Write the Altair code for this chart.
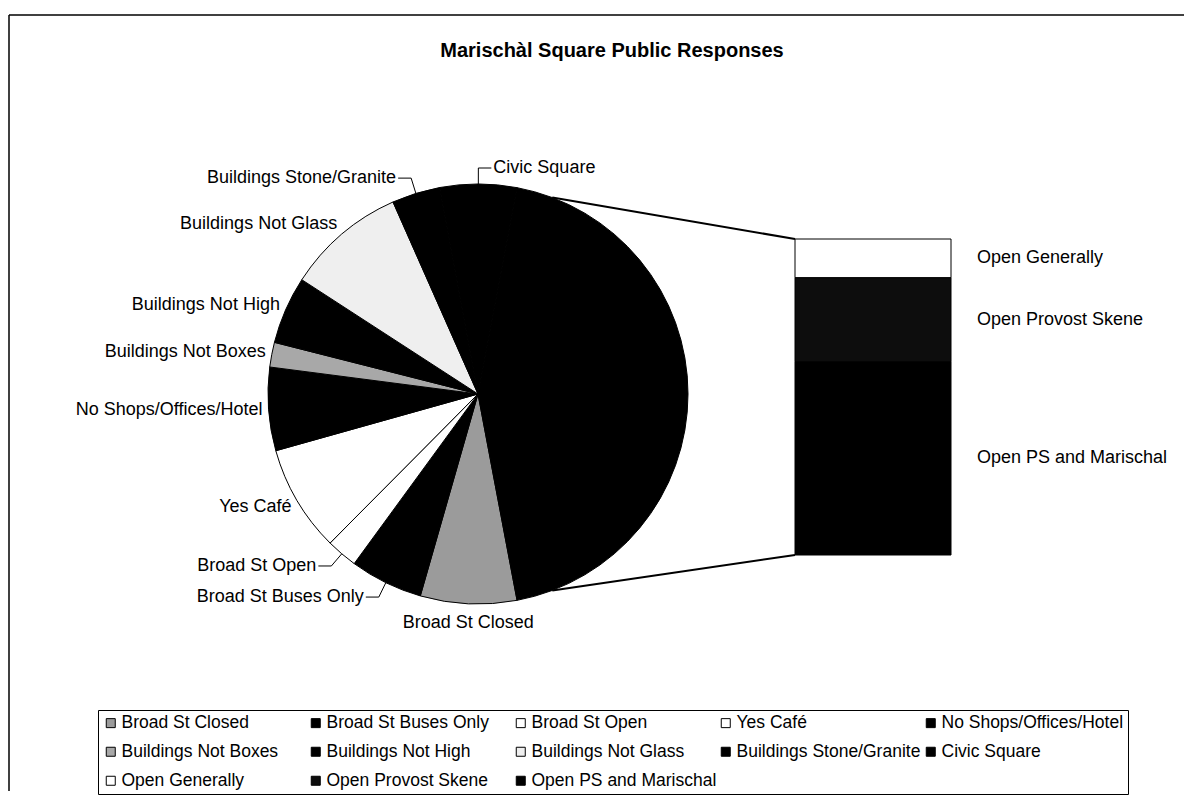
import json
import math
import altair as alt
import pandas as pd

# ---------------- data ----------------
title_text = "Marischàl Square Public Responses"
pie_categories = [
    "Broad St Closed", "Broad St Buses Only", "Broad St Open", "Yes Café",
    "No Shops/Offices/Hotel", "Buildings Not Boxes", "Buildings Not High",
    "Buildings Not Glass", "Buildings Stone/Granite", "Civic Square",
]
pie_values = [7.4, 5.6, 2.4, 8.2, 6.4, 1.9, 5.2, 9.2, 3.7, 5.9]
bar_categories = ["Open Generally", "Open Provost Skene", "Open PS and Marischal"]
bar_values = [5.4, 11.7, 26.9]
other_name = "Other"

# ---------------- styles / layout ----------------
fills = {
    "Broad St Closed": "#9b9b9b", "Broad St Buses Only": "#000000",
    "Broad St Open": "#ffffff", "Yes Café": "#ffffff",
    "No Shops/Offices/Hotel": "#000000", "Buildings Not Boxes": "#a8a8a8",
    "Buildings Not High": "#000000", "Buildings Not Glass": "#efefef",
    "Buildings Stone/Granite": "#000000", "Civic Square": "#000000",
    "Open Generally": "#ffffff", "Open Provost Skene": "#0d0d0d",
    "Open PS and Marischal": "#000000", "Other": "#000000",
}
leader_labels = ["Broad St Open", "Broad St Buses Only", "Buildings Stone/Granite", "Civic Square"]

W, H = 1175, 783
CX, CY, R = 469, 386, 210
BAR_X0, BAR_X1, BAR_TOP, BAR_BOT = 786, 942, 231, 547
GAP, LEAD, ELBOW = 4, 16, 13
LINE_INSET = math.radians(10)
FONT = "Liberation Sans"

pie_df = pd.DataFrame({"cat": pie_categories + [other_name],
                       "value": pie_values + [sum(bar_values)]})
pie_df["order"] = range(len(pie_df))
other_frac = sum(bar_values) / pie_df["value"].sum()
start = math.pi / 2 + math.pi * other_frac   # Other slice centred on 3 o'clock

bar_df = pd.DataFrame({"cat": bar_categories, "value": bar_values})
bar_df["order"] = range(len(bar_df))
bar_df["fill"] = [fills[c] for c in bar_categories]

domain_all = pie_categories + bar_categories + [other_name]
color_scale = alt.Scale(domain=domain_all, range=[fills[c] for c in domain_all])
legend = alt.Legend(
    title=None, orient="none", legendX=89, legendY=702, columns=5,
    direction="horizontal",
    values=pie_categories + bar_categories, symbolType="square", symbolSize=81,
    symbolStrokeColor="black", symbolStrokeWidth=1, symbolOpacity=1,
    labelFontSize=17.5, labelFont=FONT, labelColor="black", labelOffset=2,
    columnPadding=0, rowPadding=10, gridAlign="all", strokeColor="black",
    padding=4, labelLimit=400,
)

# ---------------- pie ----------------
arcs = alt.Chart(pie_df).mark_arc(outerRadius=R, stroke="black", strokeWidth=1).encode(
    theta=alt.Theta("value:Q", stack=True,
                    scale=alt.Scale(range=[start, start + 2 * math.pi])),
    order=alt.Order("order:Q"),
    color=alt.Color("cat:N", scale=color_scale, legend=legend),
    x=alt.value(CX), y=alt.value(CY),
)

pie_base = alt.Chart(pie_df).transform_window(
    cum="sum(value)", sort=[alt.SortField("order")], frame=[None, 0]
).transform_joinaggregate(total="sum(value)").transform_calculate(
    a0=f"{start} + 2*PI*(datum.cum - datum.value)/datum.total",
    a1=f"{start} + 2*PI*datum.cum/datum.total",
).transform_calculate(am="(datum.a0 + datum.a1)/2")

lead_list = json.dumps(leader_labels, ensure_ascii=False)
lab = pie_base.transform_filter(f"datum.cat != '{other_name}'").transform_calculate(
    s="sin(datum.am)", c="cos(datum.am)",
    lead=f"indexof({lead_list}, datum.cat) >= 0",
).transform_calculate(
    side="datum.s < -0.1 ? 'L' : (datum.s > 0.1 ? 'R' : (datum.c > 0 ? 'T' : 'B'))",
    rad=f"datum.lead ? {R + LEAD} : {R + GAP}",
    px0=f"{CX} + {R}*datum.s", py0=f"{CY} - {R}*datum.c",
).transform_calculate(
    ax=f"{CX} + datum.rad*datum.s", ay=f"{CY} - datum.rad*datum.c",
).transform_calculate(
    hx=f"datum.ax + (datum.lead ? (datum.side == 'L' ? -{ELBOW} : {ELBOW}) : 0)",
).transform_calculate(
    tx="datum.hx + (datum.side == 'L' ? -2 : (datum.side == 'B' ? 0 : 2))",
    ty="datum.ay + (datum.side == 'B' ? 6 : (datum.lead ? 0 : -9*datum.c))",
)

def label_layer(sides, align, baseline):
    cond = " || ".join(f"datum.side == '{s}'" for s in sides)
    return lab.transform_filter(cond).mark_text(
        align=align, baseline=baseline, fontSize=18, font=FONT, color="black"
    ).encode(
        x=alt.X("tx:Q", scale=None), y=alt.Y("ty:Q", scale=None), text="cat:N"
    )

labels_left = label_layer(["L"], "right", "middle")
labels_right = label_layer(["R", "T"], "left", "middle")
labels_bottom = label_layer(["B"], "center", "top")

leads = lab.transform_filter("datum.lead")
lead_radial = leads.mark_rule(color="black", strokeWidth=1).encode(
    x=alt.X("px0:Q", scale=None), y=alt.Y("py0:Q", scale=None),
    x2="ax:Q", y2="ay:Q",
)
lead_horiz = leads.mark_rule(color="black", strokeWidth=1).encode(
    x=alt.X("ax:Q", scale=None), y=alt.Y("ay:Q", scale=None),
    x2="hx:Q", y2="ay:Q",
)

# ---------------- series lines ----------------
oth = pie_base.transform_filter(f"datum.cat == '{other_name}'").transform_calculate(
    tx0=f"{CX} + {R}*sin(datum.a0 + {LINE_INSET})",
    ty0=f"{CY} - {R}*cos(datum.a0 + {LINE_INSET})",
    bx0=f"{CX} + {R}*sin(datum.a1 - {LINE_INSET})",
    by0=f"{CY} - {R}*cos(datum.a1 - {LINE_INSET})",
)
conn_top = oth.mark_rule(color="black", strokeWidth=2).encode(
    x=alt.X("tx0:Q", scale=None), y=alt.Y("ty0:Q", scale=None),
    x2=alt.value(BAR_X0), y2=alt.value(BAR_TOP),
)
conn_bot = oth.mark_rule(color="black", strokeWidth=2).encode(
    x=alt.X("bx0:Q", scale=None), y=alt.Y("by0:Q", scale=None),
    x2=alt.value(BAR_X0), y2=alt.value(BAR_BOT),
)

# ---------------- bar ----------------
bar_scale = alt.Scale(domain=[0, sum(bar_values)], range=[BAR_TOP, BAR_BOT], nice=False, zero=False)
bar_base = alt.Chart(bar_df).transform_window(
    cum="sum(value)", sort=[alt.SortField("order")], frame=[None, 0]
).transform_calculate(y0="datum.cum - datum.value", mid="datum.cum - datum.value/2")

bar = bar_base.mark_rect(stroke="black", strokeWidth=1).encode(
    x=alt.value(BAR_X0), x2=alt.value(BAR_X1),
    y=alt.Y("y0:Q", scale=bar_scale, axis=None), y2="cum:Q",
    fill=alt.Fill("fill:N", scale=None),
)
bar_labels = bar_base.mark_text(align="left", baseline="middle", fontSize=18,
                                font=FONT, color="black").encode(
    x=alt.value(BAR_X1 + 26), y=alt.Y("mid:Q", scale=bar_scale, axis=None), text="cat:N"
)

# ---------------- title and frame ----------------
one = pd.DataFrame({"t": [title_text]})
title = alt.Chart(one).mark_text(fontSize=20, fontWeight="bold", font=FONT,
                                 color="black", baseline="middle").encode(
    x=alt.value(603), y=alt.value(43), text="t:N")
frame_top = alt.Chart(one).mark_rule(color="black", strokeWidth=1.5).encode(
    x=alt.value(0), x2=alt.value(W), y=alt.value(7))
frame_left = alt.Chart(one).mark_rule(color="black", strokeWidth=1.5).encode(
    x=alt.value(0), y=alt.value(7), y2=alt.value(H))

chart = alt.layer(
    frame_top, frame_left, title, conn_top, conn_bot, arcs, bar, bar_labels,
    lead_radial, lead_horiz, labels_left, labels_right, labels_bottom,
).properties(
    width=W, height=H, padding={"left": 0, "top": 0, "right": 0, "bottom": 0},
).configure(font=FONT).configure_view(stroke=None)

chart.save("out.html", embed_options={"renderer": "svg", "actions": False})
